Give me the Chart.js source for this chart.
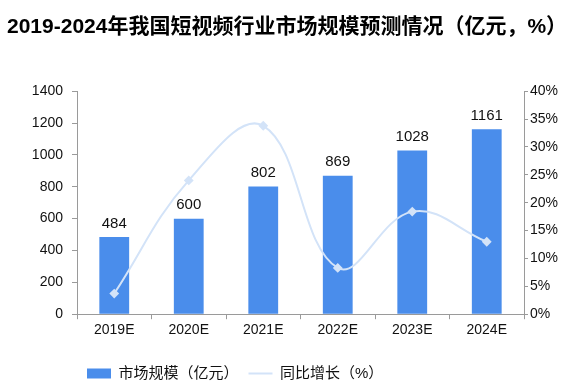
<!DOCTYPE html>
<html>
<head>
<meta charset="utf-8">
<script src="https://cdn.jsdelivr.net/npm/chart.js@4/dist/chart.umd.min.js"></script>
<style>
  html, body { margin: 0; padding: 0; background: #fff; }
  #wrap { width: 588px; height: 392px; }
</style>
</head>
<body>
<div id="wrap"><canvas id="chart" width="588" height="392"></canvas></div>
<script>
const YEARS = ['2019E', '2020E', '2021E', '2022E', '2023E', '2024E'];
const MARKET_SIZE = [484, 600, 802, 869, 1028, 1161];
const GROWTH = [3.7, 24.0, 33.8, 8.3, 18.4, 13.0];
const LEFT_TICKS = [0, 200, 400, 600, 800, 1000, 1200, 1400];
const RIGHT_TICKS = [0, 5, 10, 15, 20, 25, 30, 35, 40];

const FONT = '"Liberation Sans", "Noto Sans CJK SC", Arial, sans-serif';
const BAR_COLOR = '#4a8deb';
const LINE_COLOR = '#d3e3f8';
const AXIS_COLOR = '#9a9a9a';

// value labels above the bars
const barLabels = {
  id: 'barLabels',
  afterDatasetsDraw(chart) {
    const meta = chart.getDatasetMeta(0);
    const ctx = chart.ctx;
    ctx.save();
    ctx.font = '15px ' + FONT;
    ctx.fillStyle = '#111';
    ctx.textAlign = 'center';
    ctx.textBaseline = 'bottom';
    meta.data.forEach((bar, i) => {
      ctx.fillText(String(MARKET_SIZE[i]), bar.x, bar.y - 6);
    });
    ctx.restore();
  },
};

new Chart(document.getElementById('chart'), {
  data: {
    labels: YEARS,
    datasets: [
      {
        type: 'bar',
        label: '市场规模（亿元）',
        data: MARKET_SIZE,
        backgroundColor: BAR_COLOR,
        categoryPercentage: 1,
        barPercentage: 0.4,
        yAxisID: 'y',
        order: 1,
      },
      {
        type: 'line',
        label: '同比增长（%）',
        data: GROWTH,
        borderColor: LINE_COLOR,
        backgroundColor: LINE_COLOR,
        borderWidth: 2,
        tension: 0.4,
        pointStyle: 'rectRot',
        pointRadius: 3.5,
        pointBackgroundColor: LINE_COLOR,
        pointBorderColor: LINE_COLOR,
        yAxisID: 'y1',
        order: 0,
      },
    ],
  },
  options: {
    responsive: false,
    animation: false,
    layout: { padding: { left: 7, right: 0, top: 0, bottom: 1 } },
    plugins: {
      title: {
        display: true,
        text: '2019-2024年我国短视频行业市场规模预测情况（亿元，%）',
        align: 'start',
        color: '#000',
        font: { family: FONT, size: 21, weight: 'bold' },
        padding: { top: 15, bottom: 51 },
      },
      legend: {
        position: 'bottom',
        align: 'start',
        fullSize: false,
        labels: {
          color: '#111',
          font: { family: FONT, size: 15 },
          padding: 10,
          usePointStyle: true,
          pointStyleWidth: 24,
          boxHeight: 10,
          sort: (a, b) => a.datasetIndex - b.datasetIndex,
          generateLabels(chart) {
            const items = Chart.defaults.plugins.legend.labels.generateLabels(chart);
            items.forEach((it) => {
              const bar = it.datasetIndex === 0;
              it.pointStyle = bar ? 'rect' : 'line';
              it.lineWidth = bar ? 0 : 2;
              it.strokeStyle = bar ? BAR_COLOR : LINE_COLOR;
              it.fillStyle = bar ? BAR_COLOR : LINE_COLOR;
            });
            return items;
          },
        },
      },
      tooltip: { enabled: false },
    },
    scales: {
      x: {
        offset: true,
        afterFit: (s) => { s.height += 14; },
        grid: {
          display: true,
          drawOnChartArea: false,
          drawTicks: true,
          tickLength: 5,
          color: AXIS_COLOR,
        },
        border: { color: AXIS_COLOR, width: 1 },
        ticks: { color: '#111', font: { family: FONT, size: 14 }, padding: 3 },
      },
      y: {
        position: 'left',
        min: 0,
        max: 1400,
        afterBuildTicks: (s) => { s.ticks = LEFT_TICKS.map((v) => ({ value: v })); },
        afterFit: (s) => { s.width = 70; },
        grid: {
          drawOnChartArea: false,
          drawTicks: true,
          tickLength: 5,
          color: AXIS_COLOR,
        },
        border: { color: AXIS_COLOR, width: 1 },
        ticks: {
          color: '#111',
          font: { family: FONT, size: 14 },
          padding: 9,
          callback: (v) => String(v),
        },
      },
      y1: {
        position: 'right',
        min: 0,
        max: 40,
        afterBuildTicks: (s) => { s.ticks = RIGHT_TICKS.map((v) => ({ value: v })); },
        afterFit: (s) => { s.width = 64; },
        grid: {
          drawOnChartArea: false,
          drawTicks: true,
          tickLength: 4,
          color: AXIS_COLOR,
        },
        border: { color: AXIS_COLOR, width: 1 },
        ticks: {
          color: '#111',
          font: { family: FONT, size: 14 },
          padding: 2,
          callback: (v) => v + '%',
        },
      },
    },
  },
  plugins: [barLabels],
});
</script>
</body>
</html>
